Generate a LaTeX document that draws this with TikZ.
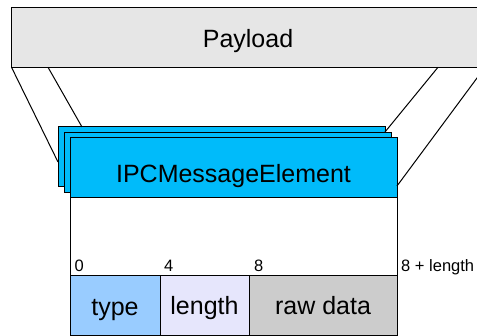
\documentclass[tikz,border=0pt]{standalone}
\usepackage{fontspec}
\setmainfont{Liberation Sans}
\usetikzlibrary{calc}
\definecolor{payloadgray}{RGB}{230,230,230}
\definecolor{elemblue}{RGB}{0,187,250}
\definecolor{typeblue}{RGB}{153,204,255}
\definecolor{lengthlav}{RGB}{230,230,252}
\definecolor{rawgray}{RGB}{204,204,204}
\begin{document}
\begin{tikzpicture}[x=1pt,y=-1pt,
  box/.style={draw=black,line width=1pt,rectangle,inner sep=0pt,outer sep=0pt},
  bigtxt/.style={font=\fontsize{25}{30}\selectfont,inner sep=0pt,anchor=base},
  offtxt/.style={font=\fontsize{16.5}{20}\selectfont,inner sep=0pt,anchor=base west},
  link/.style={draw=black,line width=1pt}]
\useasboundingbox (0,0) rectangle (477,336);

% payload bar across the top
\node[box,fill=payloadgray,minimum width=474pt,minimum height=59.5pt] (payload) at (248,37.5) {};
\node[bigtxt] (payloadtxt) at (248,47.3) {Payload};

% stacked message elements
\node[box,fill=elemblue,minimum width=327pt,minimum height=60pt] (elemback) at (221.5,157) {};
\node[box,fill=elemblue,minimum width=327pt,minimum height=60pt] (elemmid) at (227.5,162.5) {};
\node[box,fill=white,minimum width=327pt,minimum height=138pt] (elembody) at (233.5,207) {};
\node[box,fill=elemblue,minimum width=327pt,minimum height=60pt] (elemfront) at (233.5,168) {};
\node[bigtxt] (elemtxt) at (233.5,182.3) {IPCMessageElement};

% fields of the element
\node[box,fill=typeblue,minimum width=90pt,minimum height=60pt] (ftype) at (115,306) {};
\node[box,fill=lengthlav,minimum width=89pt,minimum height=60pt] (flength) at (204.5,306) {};
\node[box,fill=rawgray,minimum width=148pt,minimum height=60pt] (fraw) at (323,306) {};
\node[bigtxt] (ftypetxt) at (115,316) {type};
\node[bigtxt] (flengthtxt) at (204.5,315) {length};
\node[bigtxt] (frawtxt) at (323,315) {raw data};

% byte offsets
\node[offtxt] (off0) at (74.5,271.5) {0};
\node[offtxt] (off4) at (164,271.5) {4};
\node[offtxt] (off8) at (254,271.5) {8};
\node[offtxt] (offend) at (401,271.5) {8 + length};

% expansion lines from the payload to the elements
\coordinate (pl1) at ($(payload.south west)+(0.5,0)$);
\coordinate (pl2) at ($(payload.south west)+(37,0)$);
\coordinate (pr1) at ($(payload.south west)+(427,0)$);
\coordinate (pr2) at (payload.south east);
\coordinate (el1) at ($(elemback.north west)+(0,35)$);
\coordinate (el2) at ($(elemback.north west)+(24,0)$);
\coordinate (er1) at ($(elemback.north east)+(0,5)$);
\coordinate (er2) at ($(elemfront.north east)+(0,48)$);
\draw[link] (pl1) -- (el1);
\draw[link] (pl2) -- (el2);
\draw[link] (pr1) -- (er1);
\draw[link] (pr2) -- (er2);
\end{tikzpicture}
\end{document}
